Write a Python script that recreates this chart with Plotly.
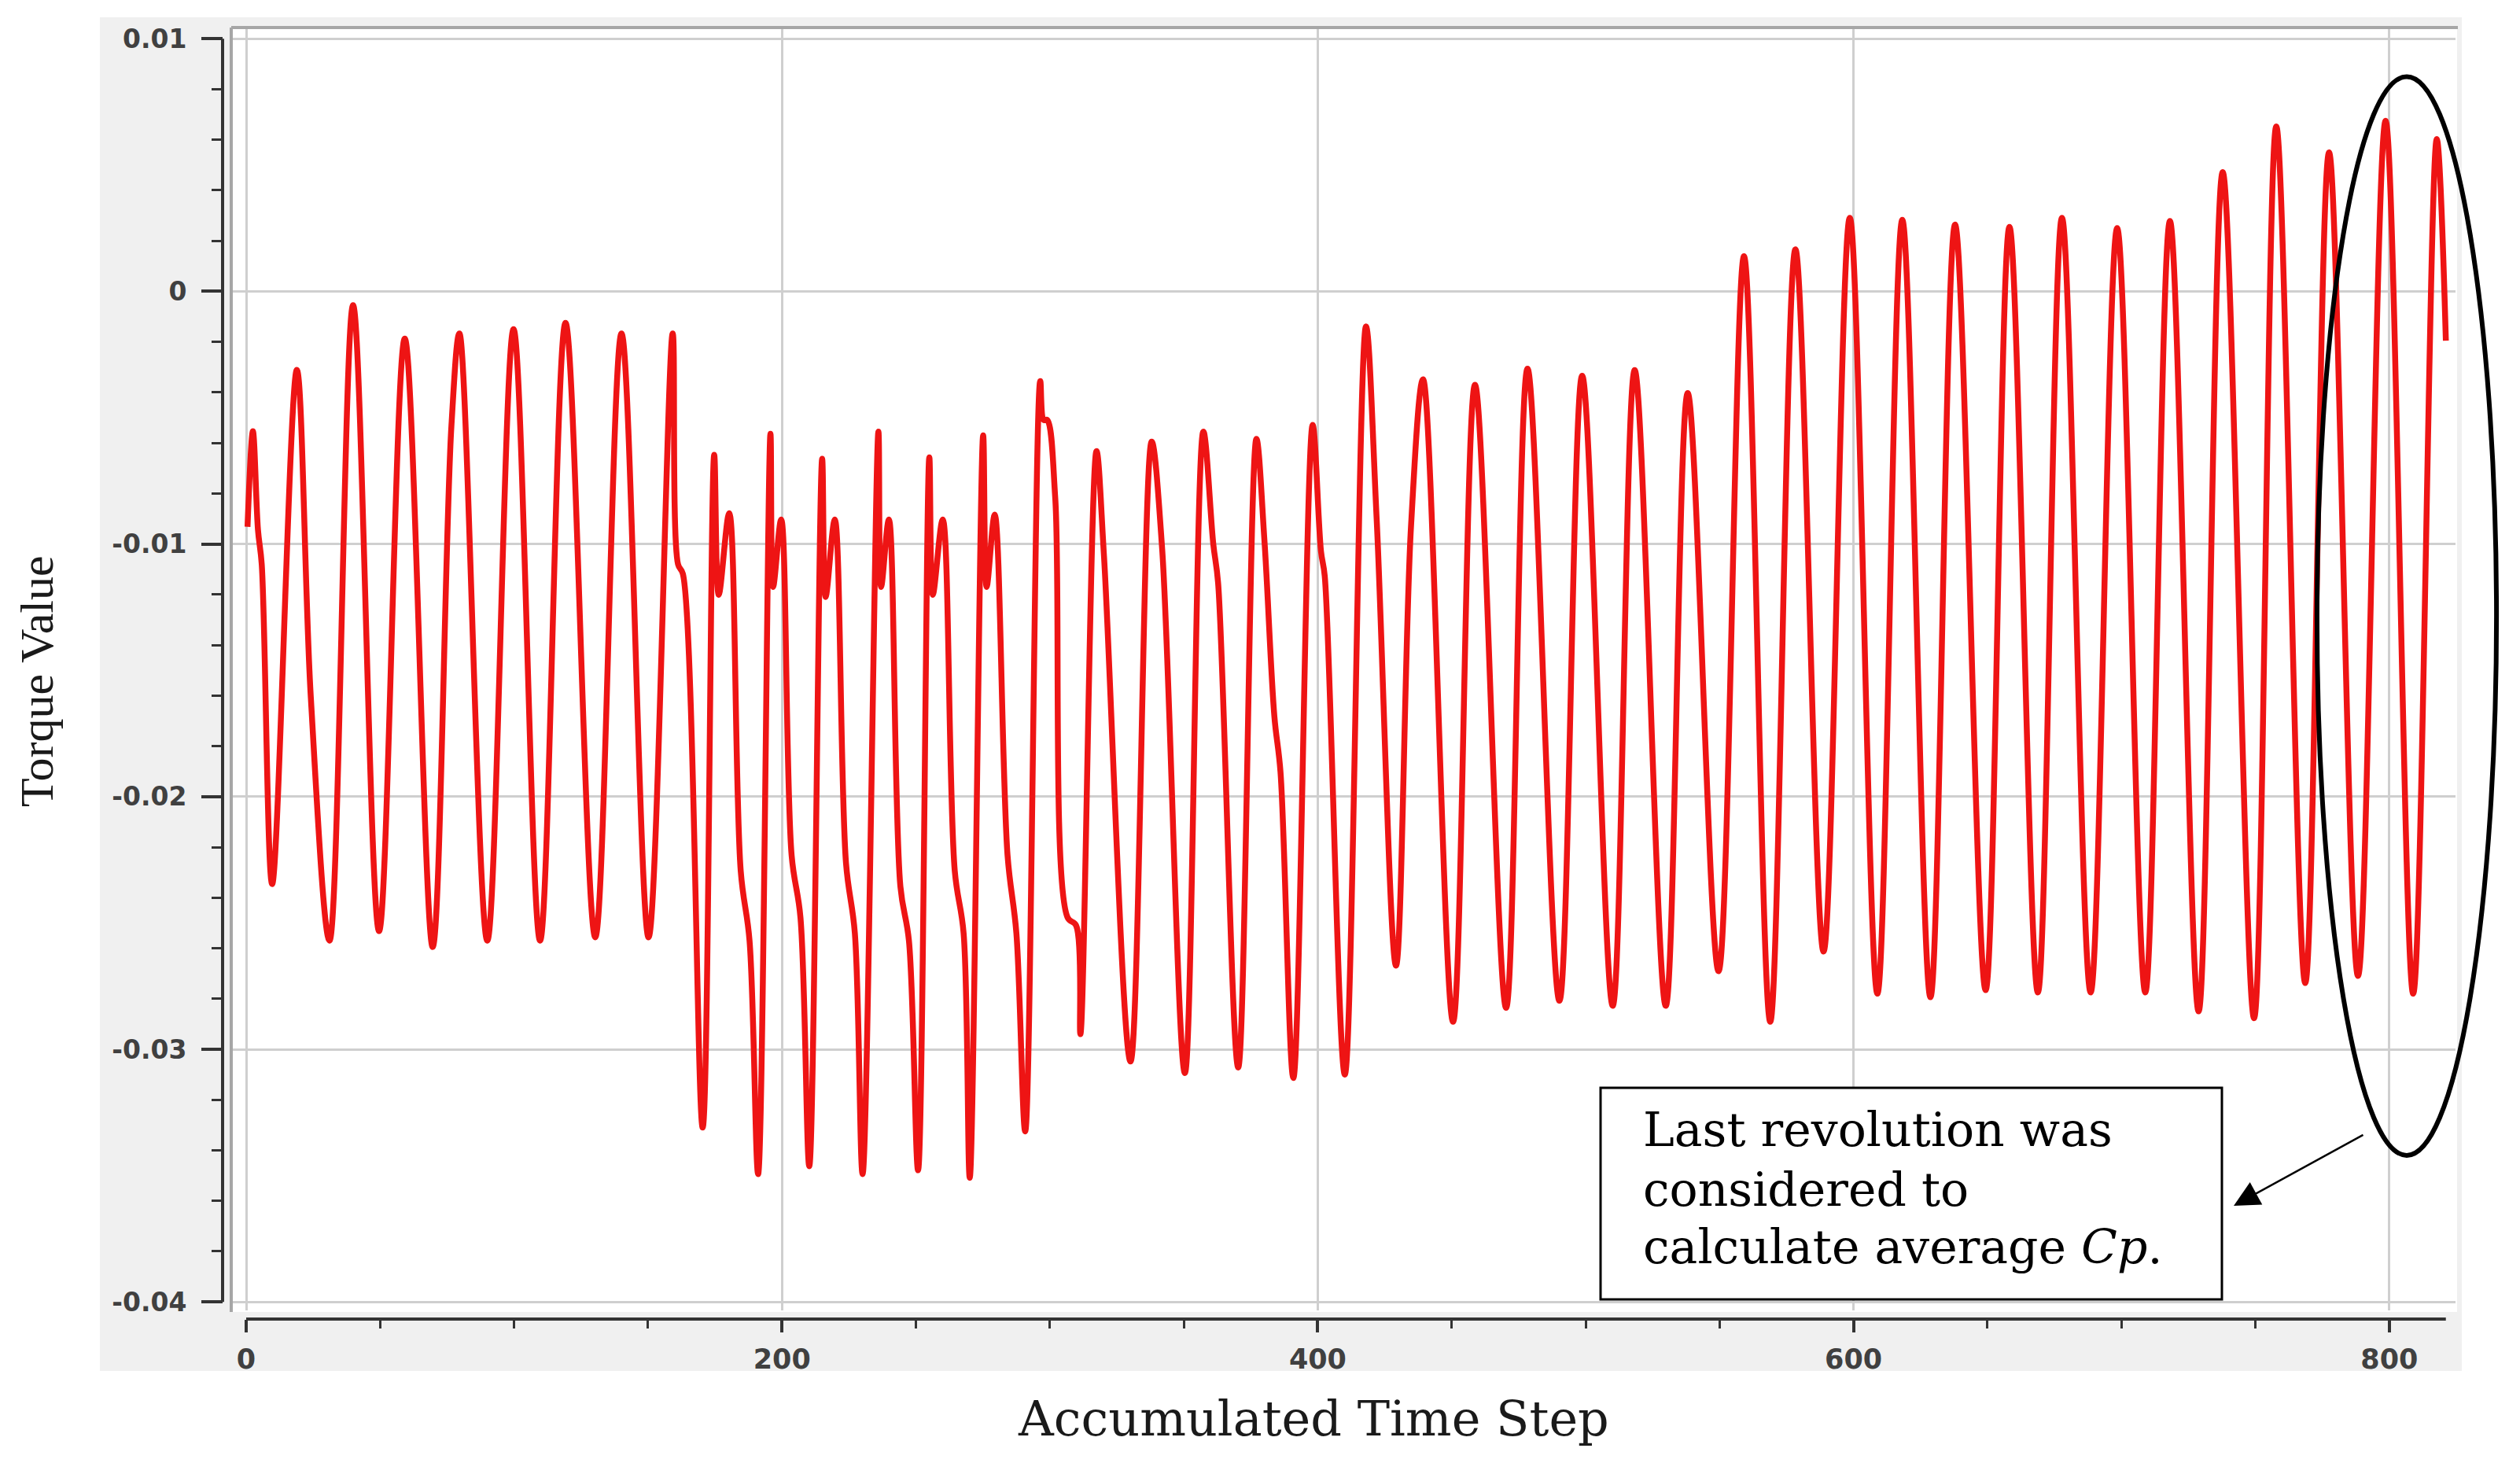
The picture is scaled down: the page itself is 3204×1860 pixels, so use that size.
import plotly.graph_objects as go

# ---------------- data ----------------
TIME_STEP = [
    0.5, 2.5, 4.4, 5.8, 9.7, 18.9, 24.1, 31.1, 39.9, 49.6, 59.2, 69.6, 76.6, 79.6,
    90.0, 99.8, 109.7, 119.2, 130.3, 140.1, 150.2, 159.2, 161.2, 163.0, 170.4,
    174.7, 176.4, 180.3, 184.6, 187.9, 191.1, 195.7, 196.7, 199.7, 203.6, 206.9,
    210.2, 215.0, 216.3, 219.7, 223.9, 227.2, 230.1, 236.0, 237.0, 239.9, 244.2,
    247.4, 250.8, 255.0, 256.3, 260.0, 264.5, 267.8, 270.1, 275.1, 276.4, 279.4,
    284.2, 287.5, 290.8, 296.4, 297.7, 299.0, 302.0, 306.6, 309.8, 311.4, 317.4,
    320.2, 330.1, 338.0, 341.9, 350.4, 357.3, 361.0, 362.8, 370.3, 377.1, 380.1,
    383.8, 386.1, 390.9, 398.1, 401.2, 402.6, 410.1, 418.0, 422.0, 429.2, 434.8,
    439.3, 450.5, 458.7, 470.3, 478.3, 490.2, 498.7, 510.1, 518.3, 529.9, 538.1,
    549.6, 559.1, 568.9, 578.3, 588.8, 598.6, 608.9, 618.2, 628.7, 637.9, 649.3,
    658.2, 668.8, 677.8, 688.5, 698.4, 708.9, 718.1, 728.8, 737.8, 749.5, 757.8,
    768.6, 777.5, 788.3, 798.6, 808.9, 817.7, 821.1,
]
TORQUE = [
    -0.00932, -0.00554, -0.00944, -0.0108, -0.02346, -0.00311, -0.01602, -0.0257,
    -0.00055, -0.02532, -0.00187, -0.02595, -0.00534, -0.00167,
    -0.0257, -0.0015, -0.0257, -0.00125, -0.02557, -0.00167, -0.02557, -0.00167,
    -0.0108, -0.01118, -0.0331,
    -0.00647, -0.01201, -0.00878, -0.02294, -0.02571, -0.03494, -0.00564, -0.0117,
    -0.00903, -0.02232, -0.02478,
    -0.03463, -0.00663, -0.0121, -0.00903, -0.02263, -0.0254, -0.03494, -0.00555,
    -0.0117, -0.00903, -0.02355,
    -0.02571, -0.03479, -0.00657, -0.01201, -0.00903, -0.02294, -0.0254, -0.03509,
    -0.0057, -0.0117, -0.00884,
    -0.02232, -0.0254, -0.03325, -0.00355, -0.00509, -0.00509, -0.00817, -0.02478,
    -0.0251, -0.0294, -0.00632,
    -0.01047, -0.03048, -0.00595, -0.01017, -0.03094, -0.00555, -0.0100, -0.01154,
    -0.03072, -0.00584, -0.00987,
    -0.01682, -0.01904, -0.03114, -0.00529, -0.01029, -0.01126, -0.031, -0.00139,
    -0.00904, -0.02669, -0.00932,
    -0.00348, -0.02891, -0.0037, -0.02836, -0.00306, -0.02808, -0.00334, -0.02828,
    -0.00312, -0.02828, -0.00403,
    -0.02691, 0.00139, -0.02891, 0.00166, -0.02613, 0.00291, -0.0278, 0.00283,
    -0.02794, 0.00264, -0.02766,
    0.00255, -0.02775, 0.00291, -0.02775, 0.0025, -0.02775, 0.00278, -0.0285,
    0.00472, -0.02877, 0.00653,
    -0.02738, 0.0055, -0.0271, 0.00675, -0.0278, 0.00603, -0.00195,
]

X_TICKS = [0, 200, 400, 600, 800]
X_TICK_LABELS = ["0", "200", "400", "600", "800"]
Y_TICKS = [0.01, 0.0, -0.01, -0.02, -0.03, -0.04]
Y_TICK_LABELS = ["0.01", "0", "-0.01", "-0.02", "-0.03", "-0.04"]

X_TITLE = "Accumulated Time Step"
Y_TITLE = "Torque Value"
NOTE_LINES = ["Last revolution was", "considered to", "calculate average <i>Cp</i>."]

# ---------------- geometry (page pixels) ----------------
PAGE_W, PAGE_H = 3204, 1860
OFF = 8                                   # default body margin of the html page
W, H = PAGE_W - 2 * OFF, PAGE_H - 2 * OFF  # figure size
L, R, T, B = 283, 3122, 35, 1677          # paper area in page pixels
PW, PH = R - L, B - T


def px2x(px):
    return (px - L) / PW


def px2y(py):
    return (B - py) / PH


XDOM0 = px2x(294)
YDOM0 = px2y(1666)
XR = [-5.58, 824.7]
YR = [-0.040336, 0.010442]


def xp(t):
    return XDOM0 + (t - XR[0]) / (XR[1] - XR[0]) * (1 - XDOM0)


def yp(v):
    return YDOM0 + (v - YR[0]) / (YR[1] - YR[0]) * (1 - YDOM0)


def v_of_px(py):
    return YR[1] - (py - T) / (1666 - T) * (YR[1] - YR[0])


def t_of_px(px):
    return XR[0] + (px - 294) / (R - 294) * (XR[1] - XR[0])


AXIS_COLOR = "#333333"
X_TICK_FONT = dict(family="DejaVu Sans", size=35, color="#404040", weight="bold")
Y_TICK_FONT = dict(family="DejaVu Sans", size=33, color="#404040", weight="bold")

fig = go.Figure()
fig.add_trace(go.Scatter(
    x=TIME_STEP, y=TORQUE, mode="lines",
    line=dict(color="rgb(238,20,20)", width=7.5, shape="spline", smoothing=1.0),
    showlegend=False, hoverinfo="x+y",
))

shapes = [
    # grey panel
    dict(type="rect", xref="paper", yref="paper", layer="below",
         x0=px2x(127), x1=px2x(3130), y0=px2y(1743), y1=px2y(22),
         fillcolor="#f0f0f0", line=dict(width=0)),
    # white plot area
    dict(type="rect", xref="paper", yref="paper", layer="below",
         x0=XDOM0, x1=px2x(3124), y0=px2y(1668), y1=1,
         fillcolor="white", line=dict(width=0)),
    # frame (left + top)
    dict(type="line", xref="paper", yref="paper", layer="above",
         x0=XDOM0, x1=XDOM0, y0=px2y(1668), y1=1,
         line=dict(color="#a6a6a6", width=4)),
    dict(type="line", xref="paper", yref="paper", layer="above",
         x0=XDOM0, x1=px2x(3125), y0=1, y1=1,
         line=dict(color="#a6a6a6", width=4)),
    # axis lines spanning the data extent
    dict(type="line", xref="paper", yref="paper", layer="above",
         x0=0, x1=0, y0=yp(Y_TICKS[-1]), y1=yp(Y_TICKS[0]),
         line=dict(color=AXIS_COLOR, width=4)),
    dict(type="line", xref="paper", yref="paper", layer="above",
         x0=xp(0), x1=xp(TIME_STEP[-1]), y0=0, y1=0,
         line=dict(color=AXIS_COLOR, width=4)),
    # note box
    dict(type="rect", xref="x", yref="y", layer="above",
         x0=t_of_px(2035), x1=t_of_px(2825), y0=v_of_px(1652), y1=v_of_px(1383),
         fillcolor="white", line=dict(color="black", width=3)),
    # ellipse around the last revolution
    dict(type="circle", xref="paper", yref="paper", layer="above",
         x0=xp(773), x1=xp(840), y0=yp(-0.0342), y1=yp(0.0085),
         line=dict(color="black", width=6)),
]

annotations = [
    dict(text=X_TITLE, xref="paper", yref="paper", x=px2x(1670), y=px2y(1804),
         xanchor="center", yanchor="middle", showarrow=False,
         font=dict(family="DejaVu Serif", size=62, color="#1a1a1a")),
    dict(text=Y_TITLE, xref="paper", yref="paper", x=px2x(47), y=px2y(866),
         xanchor="center", yanchor="middle", showarrow=False, textangle=-90,
         font=dict(family="Liberation Serif", size=60, color="#1a1a1a")),
    # arrow from ellipse to box
    dict(text="", xref="x", yref="y", x=t_of_px(2840), y=v_of_px(1533),
         ax=166, ay=-91, axref="pixel", ayref="pixel", showarrow=True,
         arrowhead=2, arrowsize=2.6, arrowwidth=2.5, arrowcolor="black", standoff=0),
]
for line_text, cy in zip(NOTE_LINES, [1436, 1512, 1585]):
    annotations.append(dict(
        text=line_text, xref="x", yref="y", x=t_of_px(2087), y=v_of_px(cy),
        xanchor="left", yanchor="middle", showarrow=False,
        font=dict(family="DejaVu Serif", size=60, color="black")))

fig.update_layout(
    width=W, height=H,
    margin=dict(l=L - OFF, r=W - (R - OFF), t=T - OFF, b=H - (B - OFF),
                pad=0, autoexpand=False),
    paper_bgcolor="white", plot_bgcolor="white",
    shapes=shapes, annotations=annotations,
    xaxis=dict(
        domain=[XDOM0, 1], range=XR, anchor="free", position=0,
        showline=False, zeroline=False,
        showgrid=True, gridcolor="#cfcfcf", gridwidth=3,
        tickmode="array", tickvals=X_TICKS, ticktext=X_TICK_LABELS,
        ticks="outside", ticklen=16, tickwidth=4, tickcolor=AXIS_COLOR,
        ticklabelstandoff=4, tickfont=X_TICK_FONT,
        minor=dict(tickmode="linear", tick0=0, dtick=50, ticks="outside",
                   ticklen=11, tickwidth=3, tickcolor=AXIS_COLOR, showgrid=False),
    ),
    yaxis=dict(
        domain=[YDOM0, 1], range=YR, anchor="free", position=0,
        showline=False, zeroline=False,
        showgrid=True, gridcolor="#cfcfcf", gridwidth=3,
        tickmode="array", tickvals=Y_TICKS, ticktext=Y_TICK_LABELS,
        ticks="outside", ticklen=27, tickwidth=4, tickcolor=AXIS_COLOR,
        ticklabelstandoff=12, tickfont=Y_TICK_FONT,
        minor=dict(tickmode="linear", tick0=0, dtick=0.002, ticks="outside",
                   ticklen=14, tickwidth=3, tickcolor=AXIS_COLOR, showgrid=False),
    ),
)

fig.write_html("out.html")
